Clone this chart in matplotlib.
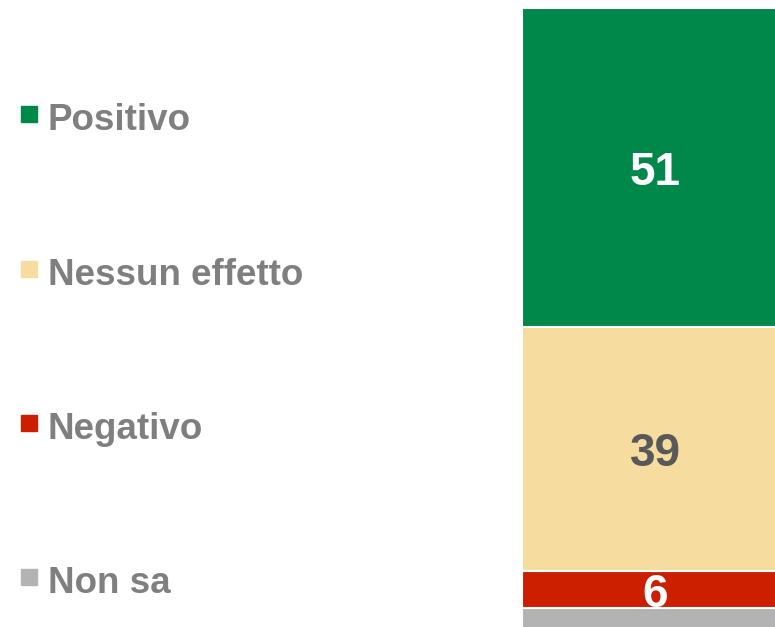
import matplotlib.pyplot as plt

categories = ["Positivo", "Nessun effetto", "Negativo", "Non sa"]
values = [51, 39, 6, 4]
colors = ["#00884A", "#F7DCA0", "#CC1F00", "#B3B3B3"]
label_colors = ["white", "#595959", "white", None]

W, H = 775, 627
fig = plt.figure(figsize=(W / 100, H / 100), dpi=100)

# bar area: single stacked column, right and bottom clipped like the original
ax = fig.add_axes([522 / W, 0, 266 / W, (H - 8) / H])
bottom = 0
stack = list(zip(categories, values, colors, label_colors))[::-1]
for name, v, c, lc in stack:
    ax.bar(0, v, bottom=bottom, width=1.0, color=c, edgecolor="white", linewidth=1.5,
           clip_on=False)
    if lc is not None:
        ax.annotate(str(v), (0, bottom + v / 2), xytext=(0, -17), textcoords="offset pixels",
                    ha="center", va="baseline", color=lc, fontsize=33,
                    fontweight="bold", family="Liberation Sans")
    bottom += v
ax.set_xlim(-0.5, 0.5)
ax.set_ylim(1.04, 100)
ax.axis("off")

# legend on the left
leg_base = [130, 285, 439, 593]
for name, c, y in zip(categories, colors, leg_base):
    fig.patches.append(plt.Rectangle((21 / W, 1 - (y - 8) / H), 16 / W, 16 / H,
                                     transform=fig.transFigure, color=c))
    fig.text(48 / W, 1 - y / H, name, ha="left", va="baseline", color="#7F7F7F",
             fontsize=26.5, fontweight="bold", family="Liberation Sans")

fig.savefig("out.png", dpi=100)
